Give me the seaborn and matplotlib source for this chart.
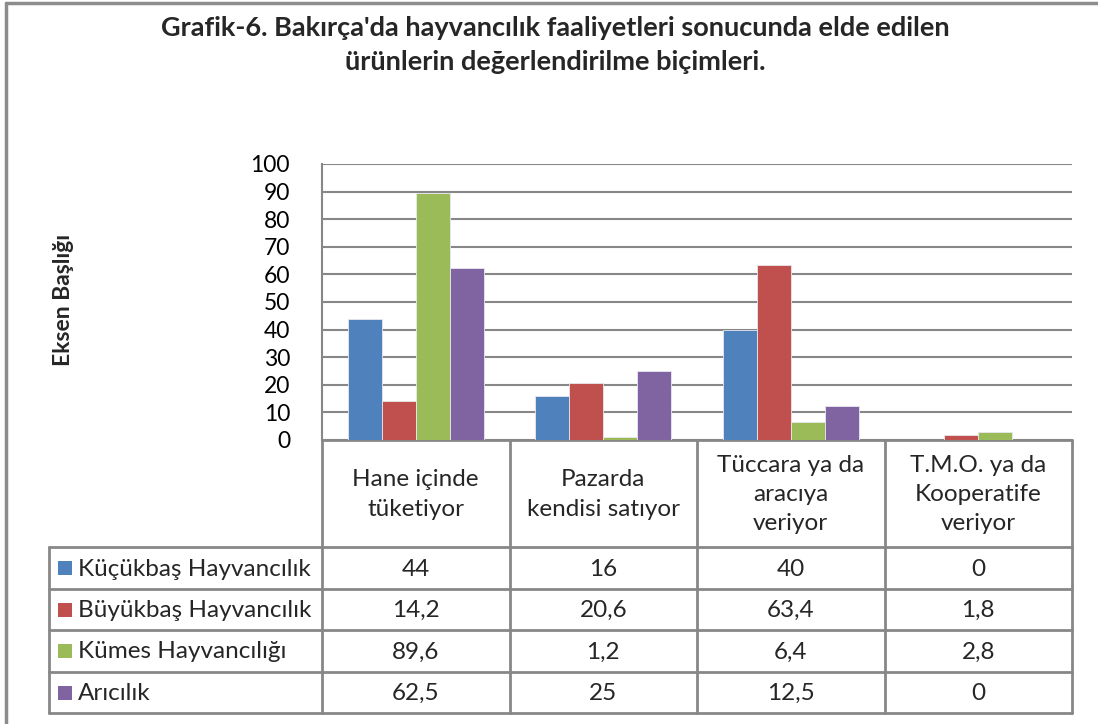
import matplotlib
matplotlib.use("Agg")
import matplotlib.pyplot as plt
from matplotlib.lines import Line2D
from matplotlib.patches import Rectangle
import seaborn as sns
import pandas as pd

categories = ["Hane içinde\ntüketiyor", "Pazarda\nkendisi satıyor",
              "Tüccara ya da\naracıya\nveriyor", "T.M.O. ya da\nKooperatife\nveriyor"]
series_names = ["Küçükbaş Hayvancılık", "Büyükbaş Hayvancılık",
                "Kümes Hayvancılığı", "Arıcılık"]
kucukbas = [44, 16, 40, 0]
buyukbas = [14.2, 20.6, 63.4, 1.8]
kumes = [89.6, 1.2, 6.4, 2.8]
aricilik = [62.5, 25, 12.5, 0]
table_labels = [["44", "16", "40", "0"],
                ["14,2", "20,6", "63,4", "1,8"],
                ["89,6", "1,2", "6,4", "2,8"],
                ["62,5", "25", "12,5", "0"]]
colors = ["#4F81BD", "#C0504D", "#9BBB59", "#8064A2"]
title = "Grafik-6. Bakırça'da hayvancılık faaliyetleri sonucunda elde edilen\nürünlerin değerlendirilme biçimleri."
ylabel = "Eksen Başlığı"

values = [kucukbas, buyukbas, kumes, aricilik]
rows = []
for s, vals in zip(series_names, values):
    for c, v in zip(categories, vals):
        rows.append({"cat": c, "series": s, "value": v})
df = pd.DataFrame(rows)

sns.set_theme(style="white")
FONT = ["Lato", "DejaVu Sans"]
plt.rcParams["font.family"] = FONT

W, H = 1098, 724
fig = plt.figure(figsize=(W / 100, H / 100), dpi=100)

# overlay axes in pixel coords
ov = fig.add_axes([0, 0, 1, 1], zorder=0)
ov.set_xlim(0, W)
ov.set_ylim(H, 0)
ov.axis("off")

L, R, T, B = 322, 1072, 164, 440
ax = fig.add_axes([L / W, (H - B) / H, (R - L) / W, (B - T) / H], zorder=2)
ax.patch.set_alpha(0)
sns.barplot(data=df, x="cat", y="value", hue="series", order=categories,
            hue_order=series_names, palette=colors, width=0.727,
            saturation=1, edgecolor="#e8e8f0", linewidth=0.6, ax=ax,
            legend=False, zorder=3)
ax.set_xlim(-0.5, 3.5)
ax.set_ylim(0, 100)
ax.set_yticks(range(0, 101, 10))
ax.yaxis.grid(True, color="#878787", linewidth=1.5)
ax.set_axisbelow(True)
ax.tick_params(axis="y", labelsize=16.5, colors="black", pad=23, length=0)
ax.set_xticks([])
ax.set_xlabel("")
ax.set_ylabel("")
for sp in ["top", "right", "bottom"]:
    ax.spines[sp].set_visible(False)
ax.spines["left"].set_color("#878787")
ax.spines["left"].set_linewidth(1.5)

# title and axis title
fig.text(555 / W, 1 - 45.5 / H, title, ha="center", va="center",
         fontsize=19.5, fontweight="bold", linespacing=1.5, family=FONT)
fig.text(64 / W, 1 - 300 / H, ylabel, ha="center", va="center",
         rotation=90, fontsize=16.5, fontweight="bold", family=FONT)

# outer frame (left & top edges visible)
ov.add_line(Line2D([6, 6], [3, H + 5], color="#8c8c8c", lw=2.5))
ov.add_line(Line2D([6, W + 5], [3, 3], color="#8c8c8c", lw=2.5))

# data table
fig.canvas.draw()
to_px = lambda xd: (ax.transData.transform((xd, 0))[0])
col_edges = [to_px(i - 0.5) for i in range(len(categories) + 1)]
col_centers = [to_px(i) for i in range(len(categories))]
leg_left = 49
hdr_top, hdr_bot = 440, 547
row_edges = [547, 589, 630, 672, 713]
gc, glw = "#878787", 2.0

ov.add_line(Line2D([col_edges[0], col_edges[-1]], [hdr_top, hdr_top], color=gc, lw=glw, zorder=4))
for xe in col_edges:
    ov.add_line(Line2D([xe, xe], [hdr_top, row_edges[-1]], color=gc, lw=glw))
for ye in row_edges:
    ov.add_line(Line2D([leg_left, col_edges[-1]], [ye, ye], color=gc, lw=glw))
ov.add_line(Line2D([leg_left, leg_left], [row_edges[0], row_edges[-1]], color=gc, lw=glw))

TS = 17.5
for xc, c in zip(col_centers, categories):
    ov.text(xc, (hdr_top + hdr_bot) / 2 + 1, c, ha="center", va="center",
            fontsize=TS, linespacing=1.5, family=FONT)

for i, (s, col) in enumerate(zip(series_names, colors)):
    yc = (row_edges[i] + row_edges[i + 1]) / 2
    ov.add_patch(Rectangle((58, yc - 7), 14, 14, facecolor=col, edgecolor="none"))
    ov.text(78, yc + 1, s, ha="left", va="center", fontsize=TS, family=FONT)
    for xc, lab in zip(col_centers, table_labels[i]):
        ov.text(xc, yc + 1, lab, ha="center", va="center", fontsize=TS, family=FONT)

fig.savefig("out.png", dpi=100)
